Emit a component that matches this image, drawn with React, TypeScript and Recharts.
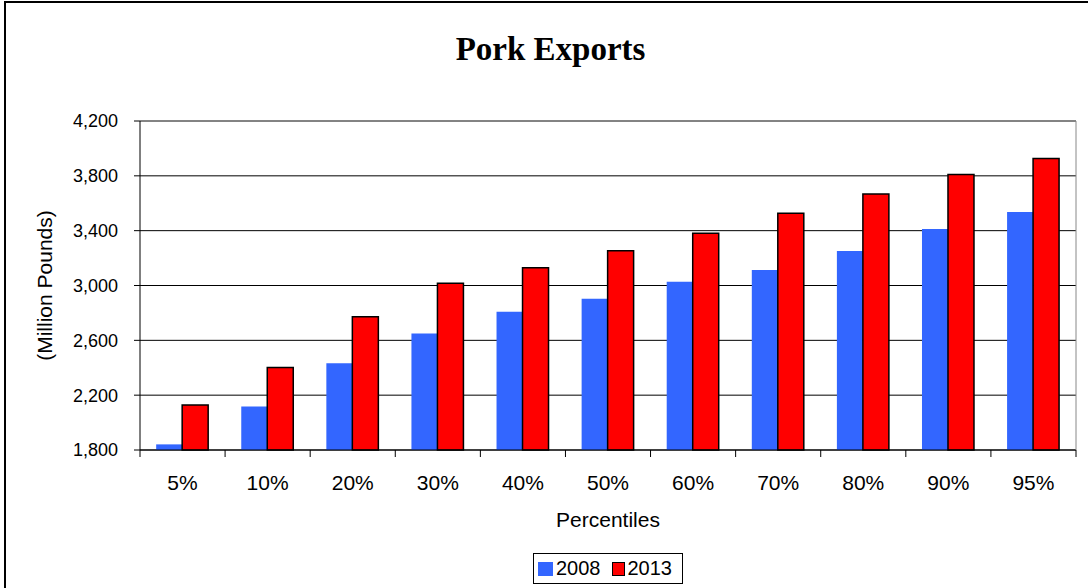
import { BarChart, Bar, XAxis, YAxis, CartesianGrid, Legend } from 'recharts'

const categories = ['5%', '10%', '20%', '30%', '40%', '50%', '60%', '70%', '80%', '90%', '95%']
const exports2008 = [1841, 2117, 2433, 2650, 2808, 2904, 3028, 3113, 3252, 3413, 3537]
const exports2013 = [2129, 2402, 2772, 3016, 3130, 3254, 3381, 3527, 3668, 3810, 3927]
const yTicks = [1800, 2200, 2600, 3000, 3400, 3800, 4200]

const series = [
  { key: 'y2008', name: '2008', fill: '#3366FF', stroke: 'none' },
  { key: 'y2013', name: '2013', fill: '#FF0000', stroke: '#000' },
]

const data = categories.map((pct, i) => ({ pct, y2008: exports2008[i], y2013: exports2013[i] }))

const SANS = 'Arial, "Liberation Sans", sans-serif'

// category labels sit at band centres, tick marks at band edges
function PctTick(props: any) {
  const { x, y, payload, index, visibleTicksCount } = props
  const half = payload?.offset ?? 0
  const last = index === visibleTicksCount - 1
  return (
    <g>
      <line x1={x - half} x2={x - half} y1={y} y2={y + 7} stroke="#000" />
      {last && <line x1={x + half} x2={x + half} y1={y} y2={y + 7} stroke="#000" />}
      <text x={x} y={y + 40} textAnchor="middle" fontSize={21} fontFamily={SANS} fill="#000">
        {payload.value}
      </text>
    </g>
  )
}

function LegendBox() {
  return (
    <div style={{
      boxSizing: 'border-box', width: 150, height: 31, border: '1px solid #000',
      display: 'flex', alignItems: 'center', paddingLeft: 4, fontFamily: SANS, fontSize: 20, color: '#000',
    }}>
      {series.map(s => (
        <span key={s.key} style={{ display: 'flex', alignItems: 'center', marginRight: 11 }}>
          <span style={{
            boxSizing: 'border-box', display: 'inline-block', width: s.stroke === 'none' ? 15 : 13, height: 14,
            background: s.fill, border: s.stroke === 'none' ? 'none' : `1px solid ${s.stroke}`, marginRight: 3,
          }} />
          {s.name}
        </span>
      ))}
    </div>
  )
}

export default function App() {
  return (
    <div style={{ position: 'absolute', left: 0, top: 0, width: 1088, height: 588, overflow: 'hidden', background: '#fff' }}>
      <div style={{
        position: 'absolute', left: 4, top: 1, width: 1200, height: 700,
        borderTop: '2px solid #000', borderLeft: '2px solid #000',
      }} />
      <div style={{
        position: 'absolute', left: 0, top: 33, width: 1101, textAlign: 'center',
        fontFamily: '"Times New Roman", "Liberation Serif", serif', fontWeight: 'bold', fontSize: 33, lineHeight: '32px',
      }}>
        Pork Exports
      </div>
      <BarChart
        width={1088}
        height={588}
        data={data}
        margin={{ top: 120, right: 11, bottom: 78, left: 0 }}
        barCategoryGap="19%"
        barGap={0}
        style={{ position: 'absolute', left: 0, top: 0 }}
      >
        <CartesianGrid vertical={false} stroke="#000" />
        <XAxis
          dataKey="pct"
          height={60}
          interval={0}
          tickSize={0}
          tickMargin={0}
          tickLine={false}
          axisLine={{ stroke: '#000' }}
          tick={<PctTick />}
          label={{
            content: ({ viewBox }: any) => (
              <text x={viewBox.x + viewBox.width / 2} y={viewBox.y + 77} textAnchor="middle"
                fontSize={21} fontFamily={SANS} fill="#000">Percentiles</text>
            ),
          }}
        />
        <XAxis xAxisId="top" orientation="top" dataKey="pct" height={1} tick={false} tickLine={false}
          axisLine={{ stroke: '#888' }} />
        <YAxis
          width={140}
          domain={[1800, 4200]}
          ticks={yTicks}
          interval={0}
          tickFormatter={(v: number) => v.toLocaleString('en-US')}
          tick={{ fontSize: 18, fill: '#000', fontFamily: SANS }}
          tickSize={6}
          tickMargin={16}
          tickLine={{ stroke: '#000' }}
          axisLine={{ stroke: '#000' }}
          label={{
            content: ({ viewBox }: any) => {
              const cx = viewBox.x + 52
              const cy = viewBox.y + viewBox.height / 2
              return (
                <text x={cx} y={cy} transform={`rotate(-90 ${cx} ${cy})`} textAnchor="middle"
                  fontSize={21} fontFamily={SANS} fill="#000">(Million Pounds)</text>
              )
            },
          }}
        />
        <YAxis yAxisId="right" orientation="right" width={1} domain={[1800, 4200]} tick={false} tickLine={false}
          axisLine={{ stroke: '#888' }} />
        <Legend
          verticalAlign="middle"
          align="center"
          layout="horizontal"
          content={<LegendBox />}
          wrapperStyle={{ left: 533, top: 553, width: 150, height: 31 }}
        />
        {series.map(s => (
          <Bar key={s.key} dataKey={s.key} name={s.name} fill={s.fill}
            stroke={s.stroke === 'none' ? undefined : s.stroke} strokeWidth={1.5} isAnimationActive={false} />
        ))}
      </BarChart>
    </div>
  )
}
